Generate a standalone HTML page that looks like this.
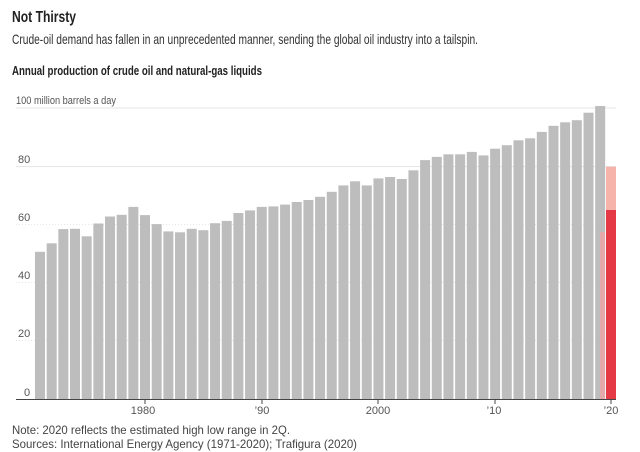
<!DOCTYPE html>
<html><head><meta charset="utf-8"><style>
html,body{margin:0;padding:0;background:#fff;}
svg{display:block;font-family:"Liberation Sans",sans-serif;}
</style></head><body>
<svg width="640" height="452" viewBox="0 0 640 452" xmlns="http://www.w3.org/2000/svg">
<text x="12" y="22" font-size="16" font-weight="bold" fill="#222" textLength="64" lengthAdjust="spacingAndGlyphs">Not Thirsty</text>
<text x="12" y="44" font-size="14" fill="#333" textLength="466" lengthAdjust="spacingAndGlyphs">Crude-oil demand has fallen in an unprecedented manner, sending the global oil industry into a tailspin.</text>
<text x="12" y="75" font-size="13" font-weight="bold" fill="#222" textLength="250" lengthAdjust="spacingAndGlyphs">Annual production of crude oil and natural-gas liquids</text>
<g stroke="#e6e6e6" stroke-width="1">
<line x1="16" x2="616" y1="108" y2="108"/>
<line x1="16" x2="616" y1="166.5" y2="166.5"/>
<line x1="16" x2="616" y1="224.5" y2="224.5" stroke-dasharray="1,2"/>
<line x1="16" x2="616" y1="282.5" y2="282.5" stroke-dasharray="1,2"/>
<line x1="16" x2="616" y1="340.5" y2="340.5" stroke-dasharray="1,2"/>
</g>
<g font-size="11" fill="#555">
<text x="16" y="104" textLength="100" lengthAdjust="spacingAndGlyphs">100 million barrels a day</text>
<text x="18" y="163">80</text>
<text x="18" y="221">60</text>
<text x="18" y="279">40</text>
<text x="18" y="337">20</text>
<text x="24" y="396">0</text>
</g>
<g fill="#bdbdbd">
<rect x="35" y="251.8" width="10" height="147.2"/>
<rect x="46.67" y="243.3" width="10" height="155.7"/>
<rect x="58.34" y="229.1" width="10" height="169.9"/>
<rect x="70.01" y="228.8" width="10" height="170.2"/>
<rect x="81.68" y="236.3" width="10" height="162.7"/>
<rect x="93.35" y="223.5" width="10" height="175.5"/>
<rect x="105.02" y="216.5" width="10" height="182.5"/>
<rect x="116.69" y="214.8" width="10" height="184.2"/>
<rect x="128.36" y="206.9" width="10" height="192.1"/>
<rect x="140.03" y="215.1" width="10" height="183.9"/>
<rect x="151.7" y="224.1" width="10" height="174.9"/>
<rect x="163.37" y="231.4" width="10" height="167.6"/>
<rect x="175.04" y="232.3" width="10" height="166.7"/>
<rect x="186.71" y="228.8" width="10" height="170.2"/>
<rect x="198.38" y="230.2" width="10" height="168.8"/>
<rect x="210.05" y="223.2" width="10" height="175.8"/>
<rect x="221.72" y="220.9" width="10" height="178.1"/>
<rect x="233.39" y="213" width="10" height="186"/>
<rect x="245.06" y="210.4" width="10" height="188.6"/>
<rect x="256.73" y="206.9" width="10" height="192.1"/>
<rect x="268.4" y="206.4" width="10" height="192.6"/>
<rect x="280.07" y="204.6" width="10" height="194.4"/>
<rect x="291.74" y="202" width="10" height="197"/>
<rect x="303.41" y="200" width="10" height="199"/>
<rect x="315.08" y="196.8" width="10" height="202.2"/>
<rect x="326.75" y="191.8" width="10" height="207.2"/>
<rect x="338.42" y="185.4" width="10" height="213.6"/>
<rect x="350.09" y="181.3" width="10" height="217.7"/>
<rect x="361.76" y="185.4" width="10" height="213.6"/>
<rect x="373.43" y="178.4" width="10" height="220.6"/>
<rect x="385.1" y="177" width="10" height="222"/>
<rect x="396.77" y="179" width="10" height="220"/>
<rect x="408.44" y="170.3" width="10" height="228.7"/>
<rect x="420.11" y="160.1" width="10" height="238.9"/>
<rect x="431.78" y="156.9" width="10" height="242.1"/>
<rect x="443.45" y="154.3" width="10" height="244.7"/>
<rect x="455.12" y="154.3" width="10" height="244.7"/>
<rect x="466.79" y="151.9" width="10" height="247.1"/>
<rect x="478.46" y="155.4" width="10" height="243.6"/>
<rect x="490.13" y="148.7" width="10" height="250.3"/>
<rect x="501.8" y="145.2" width="10" height="253.8"/>
<rect x="513.47" y="140.3" width="10" height="258.7"/>
<rect x="525.14" y="138.3" width="10" height="260.7"/>
<rect x="536.81" y="131.9" width="10" height="267.1"/>
<rect x="548.48" y="125.8" width="10" height="273.2"/>
<rect x="560.15" y="122.3" width="10" height="276.7"/>
<rect x="571.82" y="120.2" width="10" height="278.8"/>
<rect x="583.49" y="112.7" width="10" height="286.3"/>
<rect x="595.16" y="106" width="10" height="293"/>
</g>
<rect x="600" y="232" width="5" height="167" fill="#e3a9ab"/>
<rect x="606" y="166.7" width="10" height="43.3" fill="#f5b3aa"/>
<rect x="606" y="210" width="10" height="189" fill="#e63946"/>
<line x1="16" x2="616" y1="399.5" y2="399.5" stroke="#444" stroke-width="1"/>
<g stroke="#444"><line x1="145" x2="145" y1="400" y2="404"/><line x1="262" x2="262" y1="400" y2="404"/><line x1="378" x2="378" y1="400" y2="404"/><line x1="495" x2="495" y1="400" y2="404"/><line x1="611" x2="611" y1="400" y2="404"/></g>
<g font-size="11" fill="#555" text-anchor="middle">
<text x="143" y="414">1980</text><text x="262" y="414">’90</text><text x="378" y="414">2000</text><text x="494" y="414">’10</text><text x="611" y="414">’20</text>
</g>
<text x="12" y="434" font-size="12" fill="#444" textLength="278" lengthAdjust="spacingAndGlyphs">Note: 2020 reflects the estimated high low range in 2Q.</text>
<text x="12" y="448" font-size="12" fill="#444" textLength="345" lengthAdjust="spacingAndGlyphs">Sources: International Energy Agency (1971-2020); Trafigura (2020)</text>
</svg>
</body></html>
